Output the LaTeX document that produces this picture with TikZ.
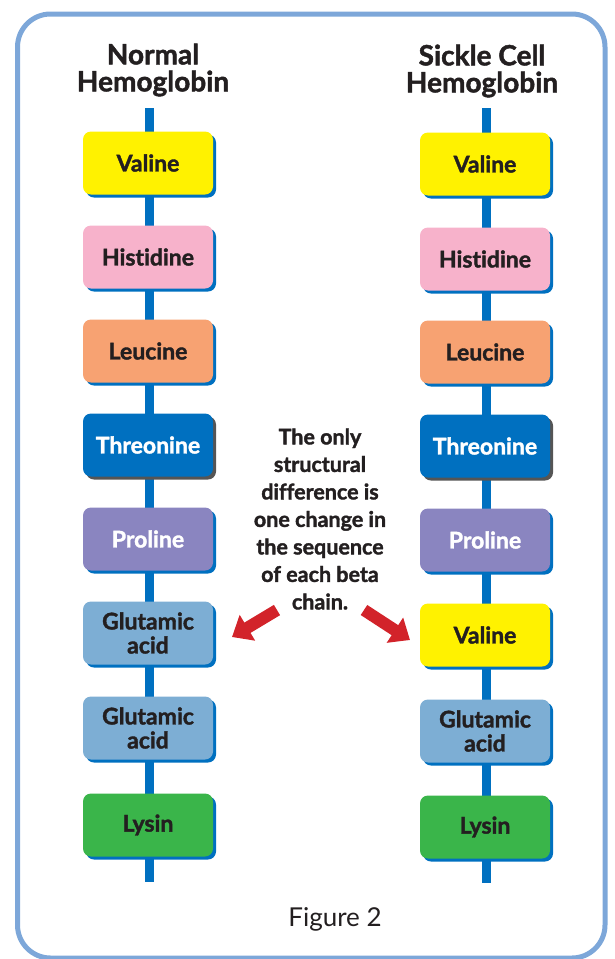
\documentclass[tikz,border=0pt]{standalone}
\usepackage{fontspec}
\setmainfont{Lato}[Ligatures=NoCommon, BoldFeatures={FakeBold=1.6}]
\usetikzlibrary{arrows.meta,shadows}

\definecolor{aaYellow}{HTML}{FFF200}
\definecolor{aaPink}{HTML}{F7B2CB}
\definecolor{aaOrange}{HTML}{F7A272}
\definecolor{aaBlue}{HTML}{0070C0}
\definecolor{aaPurple}{HTML}{8A85C0}
\definecolor{aaSky}{HTML}{7DAED4}
\definecolor{aaGreen}{HTML}{3AB54A}
\definecolor{aaGray}{HTML}{555555}
\definecolor{aaText}{HTML}{231F20}
\definecolor{aaRed}{HTML}{D2232A}
\definecolor{aaFrame}{HTML}{7DA7D9}

\begin{document}
\begin{tikzpicture}[x=1pt, y=-1pt]

	% ---------- Bounding box ----------
	\useasboundingbox (0,0) rectangle (615,959);

	% ---------- Helper styles ----------
	\tikzset{
		aa/.style={rounded corners=8pt, minimum width=130pt, minimum height=63pt,
			inner sep=0pt, align=center, text=aaText,
			font=\fontsize{23}{24}\selectfont\bfseries},
		title/.style={align=center, text=aaText, font=\fontsize{28}{27}\selectfont\bfseries},
		note/.style={align=center, text=aaText, font=\fontsize{21.5}{27.5}\selectfont\bfseries},
		spine/.style={draw=aaBlue, line width=9pt},
		redarrow/.style={draw=aaRed, line width=12pt, -{Triangle[width=29pt,length=18pt]}},
		frame/.style={draw=aaFrame, line width=5pt, rounded corners=33pt}
	}

	% ---------- Frame ----------
	\draw[frame] (17.5,14) rectangle (605,958);

	% ---------- Titles ----------
	\node[title] (t1) at (153,70) {Normal\\Hemoglobin};
	\node[title] (t2) at (482,71) {Sickle Cell\\Hemoglobin};

	% ---------- Spines ----------
	\coordinate (L-top) at (149,108);
	\coordinate (L-bot) at (149,882);
	\coordinate (R-top) at (486,108);
	\coordinate (R-bot) at (486,883);
	\draw[spine] (L-top) -- (L-bot);
	\draw[spine] (R-top) -- (R-bot);

	% ---------- NORMAL chain (left) ----------
	\foreach \i/\y/\txt/\fc/\tc/\sc in {
		1/163/Valine/aaYellow/aaText/aaBlue,
		2/257/Histidine/aaPink/aaText/aaBlue,
		3/351/Leucine/aaOrange/aaText/aaBlue,
		4/445/Threonine/aaBlue/white/aaGray,
		5/539/Proline/aaPurple/white/aaBlue,
		6/633/{Glutamic\\acid}/aaSky/aaText/aaBlue,
		7/728/{Glutamic\\acid}/aaSky/aaText/aaBlue,
		8/825/Lysin/aaGreen/aaText/aaBlue}{
		\node[aa, fill=\fc, text=\tc,
			copy shadow={shadow xshift=3pt, shadow yshift=-3pt, fill=\sc, draw=none}]
			(N-\i) at (148,\y) {\txt};
	}

	% ---------- SICKLE chain (right) ----------
	\foreach \i/\y/\txt/\fc/\tc/\sc in {
		1/164/Valine/aaYellow/aaText/aaBlue,
		2/259/Histidine/aaPink/aaText/aaBlue,
		3/352/Leucine/aaOrange/aaText/aaBlue,
		4/446/Threonine/aaBlue/white/aaGray,
		5/540/Proline/aaPurple/white/aaBlue,
		6/635/Valine/aaYellow/aaText/aaBlue,
		7/731/{Glutamic\\acid}/aaSky/aaText/aaBlue,
		8/827/Lysin/aaGreen/aaText/aaBlue}{
		\node[aa, fill=\fc, text=\tc,
			copy shadow={shadow xshift=3pt, shadow yshift=-3pt, fill=\sc, draw=none}]
			(S-\i) at (485,\y) {\txt};
	}

	% ---------- Note and arrows ----------
	\node[note] (n1) at (320,519) {The only\\structural\\difference is\\one change in\\the sequence\\of each beta\\chain.};

	\coordinate (LA-s) at (277,610);
	\coordinate (LA-e) at (232,637);
	\coordinate (RA-s) at (364,610);
	\coordinate (RA-e) at (410,640);
	\draw[redarrow] (LA-s) -- (LA-e);
	\draw[redarrow] (RA-s) -- (RA-e);

	% ---------- Caption ----------
	\node[text=aaText, font=\fontsize{26}{28}\selectfont] (cap) at (335,919) {Figure 2};

\end{tikzpicture}
\end{document}
